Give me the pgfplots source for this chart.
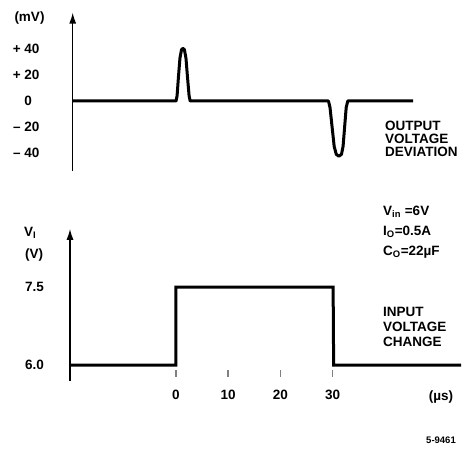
\documentclass[border=0pt]{standalone}
\usepackage{pgfplots}
\pgfplotsset{compat=1.18}
\usepackage{fontspec}
\setmainfont{Liberation Sans}
\usetikzlibrary{arrows.meta}
\begin{document}
\fontsize{13.5}{15}\selectfont\bfseries
\begin{tikzpicture}[every node/.style={font=\fontsize{13.5}{15}\selectfont\bfseries}]
\useasboundingbox (0pt,0pt) rectangle (470pt,457pt);
% ---------- top: output voltage deviation ----------
\begin{axis}[
  at={(72.7pt,285.8pt)}, anchor=south west,
  scale only axis, width=390.4pt, height=158.6pt,
  xmin=-19.8, xmax=55, ymin=-54, ymax=68,
  axis x line=none, axis y line=left,
  y axis line style={line width=1.4pt, -{Latex[length=11pt,width=7pt]}},
  ytick={40,20,0,-20,-40},
  yticklabels={+ 40,+ 20,0\hphantom{0},– 20,– 40},
  major tick length=0pt,
  yticklabel style={anchor=east, inner sep=0pt, xshift=-33pt, font=\fontsize{13.5}{15}\selectfont\bfseries},
  clip=false,
]
\addplot[line width=3pt, line join=round] coordinates {
  (-19.8,0) (0,0) (0.2,4) (0.45,18) (0.75,33) (1.05,39.5) (1.3,40.5) (1.6,39.5) (1.9,33) (2.2,18) (2.5,4) (2.7,0)
  (29.2,0) (29.5,-5) (29.9,-20) (30.3,-35) (30.7,-41) (31.2,-42.5) (31.7,-41) (32.0,-35) (32.3,-20) (32.6,-5) (32.9,0)
  (45.4,0)
};
\end{axis}
% ---------- bottom: input voltage change ----------
\begin{axis}[
  at={(70pt,76.4pt)}, anchor=south west,
  scale only axis, width=393.1pt, height=151.8pt,
  xmin=-20.3, xmax=55, ymin=5.7, ymax=8.62,
  axis y line=left, axis x line*=bottom,
  x axis line style={draw=none},
  y axis line style={line width=1.4pt, -{Latex[length=11pt,width=7pt]}},
  xtick={0,10,20,30}, xticklabels={0,10,20,30},
  ytick={6,7.5}, yticklabels={6.0,7.5},
  tick align=inside, major tick length=7pt,
  x tick style={line width=1.4pt, yshift=3.6pt},
  y tick style={draw=none},
  xticklabel style={anchor=center, inner sep=0pt, yshift=-14pt, font=\fontsize{13.5}{15}\selectfont\bfseries},
  yticklabel style={anchor=east, inner sep=0pt, xshift=-26pt, font=\fontsize{13.5}{15}\selectfont\bfseries},
  clip=false,
]
\addplot[line width=3pt, line join=miter] coordinates {
  (-20.3,6.0) (0,6.0) (0,7.5) (30.1,7.5) (30.2,6.0) (54.6,6.0)
};
\end{axis}
% ---------- texts ----------
\node[inner sep=0pt] at (29.5pt,439pt) {(mV)};
\node[inner sep=0pt, anchor=west] at (24pt,224pt) {V\textsubscript{I}};
\node[inner sep=0pt, anchor=west] at (25pt,202pt) {(V)};
\node[inner sep=0pt, anchor=west] at (385pt,331.3pt) {OUTPUT};
\node[inner sep=0pt, anchor=west] at (385pt,318.3pt) {VOLTAGE};
\node[inner sep=0pt, anchor=west] at (385pt,305.3pt) {DEVIATION};
\node[inner sep=0pt, anchor=west] at (383pt,245.3pt) {V\textsubscript{in} =6V};
\node[inner sep=0pt, anchor=west] at (383pt,225.3pt) {I\textsubscript{O}=0.5A};
\node[inner sep=0pt, anchor=west] at (383pt,205.3pt) {C\textsubscript{O}=22µF};
\node[inner sep=0pt, anchor=west] at (383pt,145.3pt) {INPUT};
\node[inner sep=0pt, anchor=west] at (383pt,130.3pt) {VOLTAGE};
\node[inner sep=0pt, anchor=west] at (383pt,115.3pt) {CHANGE};
\node[inner sep=0pt] at (441pt,60.3pt) {(µs)};
\node[inner sep=0pt, font=\fontsize{9.5}{11}\selectfont\bfseries] at (441pt,17pt) {5-9461};
\end{tikzpicture}
\end{document}
